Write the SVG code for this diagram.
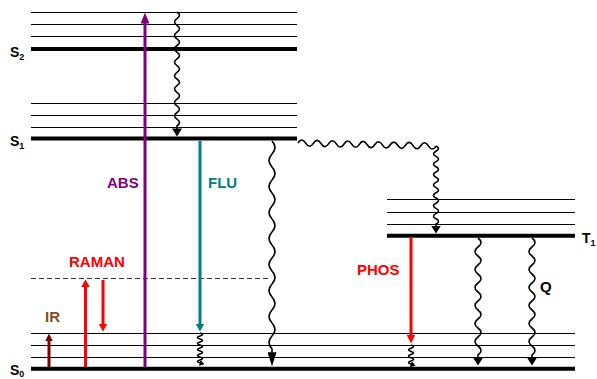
<svg xmlns="http://www.w3.org/2000/svg" width="597" height="379" viewBox="0 0 597 379">
<style>
.thin{stroke:#000;stroke-width:1;fill:none}
.thick{stroke:#000;stroke-width:4;fill:none}
.dash{stroke:#333;stroke-width:1;stroke-dasharray:5 3;fill:none}
.wave{stroke:#000;stroke-width:1.6;fill:none}
.lbl{font-family:"Liberation Sans",Arial,sans-serif;font-weight:bold;font-size:15px}
.st{font-family:"Liberation Sans",Arial,sans-serif;font-weight:bold;font-size:14px;fill:#000}
.sub{font-size:9px}
</style>
<defs>
<marker id="mPurple" viewBox="0 0 10 10" refX="0.5" refY="5" markerWidth="11" markerHeight="9" markerUnits="userSpaceOnUse" orient="auto" preserveAspectRatio="none"><path d="M0,0L10,5L0,10z" fill="#800080"/></marker>
<marker id="mTeal" viewBox="0 0 10 10" refX="0.5" refY="5" markerWidth="8" markerHeight="9" markerUnits="userSpaceOnUse" orient="auto" preserveAspectRatio="none"><path d="M0,0L10,5L0,10z" fill="#008080"/></marker>
<marker id="mRed" viewBox="0 0 10 10" refX="0.5" refY="5" markerWidth="8" markerHeight="9" markerUnits="userSpaceOnUse" orient="auto" preserveAspectRatio="none"><path d="M0,0L10,5L0,10z" fill="#FF0000"/></marker>
<marker id="mRed9" viewBox="0 0 10 10" refX="0.5" refY="5" markerWidth="9" markerHeight="9" markerUnits="userSpaceOnUse" orient="auto" preserveAspectRatio="none"><path d="M0,0L10,5L0,10z" fill="#FF0000"/></marker>
<marker id="mDred" viewBox="0 0 10 10" refX="0.5" refY="5" markerWidth="8" markerHeight="8" markerUnits="userSpaceOnUse" orient="auto" preserveAspectRatio="none"><path d="M0,0L10,5L0,10z" fill="#800000"/></marker>
<marker id="mBlk" viewBox="0 0 10 10" refX="0.5" refY="5" markerWidth="8" markerHeight="10" markerUnits="userSpaceOnUse" orient="auto" preserveAspectRatio="none"><path d="M0,0L10,5L0,10z" fill="#000"/></marker>
<marker id="mBlkLong" viewBox="0 0 10 10" refX="0.5" refY="5" markerWidth="14" markerHeight="9" markerUnits="userSpaceOnUse" orient="auto" preserveAspectRatio="none"><path d="M0,0L10,5L0,10z" fill="#000"/></marker>
<marker id="mBlkSm" viewBox="0 0 10 10" refX="0.5" refY="5" markerWidth="5" markerHeight="6" markerUnits="userSpaceOnUse" orient="auto" preserveAspectRatio="none"><path d="M0,0L10,5L0,10z" fill="#000"/></marker>
</defs>

<g id="S2">
<line class="thin" x1="31" y1="12.5" x2="297" y2="12.5"/>
<line class="thin" x1="31" y1="24.5" x2="297" y2="24.5"/>
<line class="thin" x1="31" y1="36.5" x2="297" y2="36.5"/>
<line class="thick" x1="31" y1="49" x2="297" y2="49"/>
<text class="st" x="10" y="57">S<tspan class="sub" dy="3">2</tspan></text>
</g>
<g id="S1">
<line class="thin" x1="31" y1="103.5" x2="297" y2="103.5"/>
<line class="thin" x1="31" y1="115.5" x2="297" y2="115.5"/>
<line class="thin" x1="31" y1="127.5" x2="297" y2="127.5"/>
<line class="thick" x1="31" y1="138.5" x2="297" y2="138.5"/>
<text class="st" x="10" y="146">S<tspan class="sub" dy="3">1</tspan></text>
</g>
<g id="T1">
<line class="thin" x1="387" y1="199.5" x2="575" y2="199.5"/>
<line class="thin" x1="387" y1="212.5" x2="575" y2="212.5"/>
<line class="thin" x1="387" y1="224.5" x2="575" y2="224.5"/>
<line class="thick" x1="387" y1="235.7" x2="575" y2="235.7"/>
<text class="st" x="582" y="243">T<tspan class="sub" dy="3">1</tspan></text>
</g>
<g id="S0">
<line class="thin" x1="31" y1="333.5" x2="575" y2="333.5"/>
<line class="thin" x1="31" y1="345.5" x2="575" y2="345.5"/>
<line class="thin" x1="31" y1="357.5" x2="575" y2="357.5"/>
<line class="thick" x1="31" y1="368.7" x2="575" y2="368.7"/>
<text class="st" x="10" y="375">S<tspan class="sub" dy="2">0</tspan></text>
</g>
<g id="virtual">
<line class="dash" x1="31" y1="278.5" x2="268" y2="278.5"/>
</g>

<g id="connectors">
<line x1="145" y1="367" x2="145" y2="23" stroke="#800080" stroke-width="3" marker-end="url(#mPurple)"/>
<line x1="200" y1="141" x2="200" y2="324" stroke="#008080" stroke-width="3" marker-end="url(#mTeal)"/>
<line x1="85.5" y1="367" x2="85.5" y2="287" stroke="#FF0000" stroke-width="3" marker-end="url(#mRed)"/>
<line x1="103" y1="280" x2="103" y2="324" stroke="#FF0000" stroke-width="3" marker-end="url(#mRed)"/>
<line x1="49" y1="367" x2="49" y2="341" stroke="#800000" stroke-width="3" marker-end="url(#mDred)"/>
<line x1="411" y1="237" x2="411" y2="335" stroke="#FF0000" stroke-width="3" marker-end="url(#mRed9)"/>

<path class="wave" marker-end="url(#mBlk)" d="M177,12 q5,3.35 0,6.7 t0,6.7 t0,6.7 t0,6.7 t0,6.7 t0,6.7 t0,6.7 t0,6.7 t0,6.7 t0,6.7 t0,6.7 t0,6.7 t0,6.7 t0,6.7 t0,6.7 t0,6.7 t0,6.7 v3"/>
<path class="wave" marker-end="url(#mBlkLong)" d="M272,141 q6,6.5 0,13 t0,13 t0,13 t0,13 t0,13 t0,13 t0,13 t0,13 t0,13 t0,13 t0,13 t0,13 t0,13 t0,13 t0,13 t0,13 v4"/>
<path class="wave" d="M298,143 q3.83,-6 7.67,0.17 t7.67,0.17 t7.67,0.17 t7.67,0.17 t7.67,0.17 t7.67,0.17 t7.67,0.17 t7.67,0.17 t7.67,0.17 t7.67,0.17 t7.67,0.17 t7.67,0.17 t7.67,0.17 t7.67,0.17 t7.67,0.17 t7.67,0.17 t7.67,0.17 t7.67,0.17"/>
<path class="wave" marker-end="url(#mBlk)" d="M436,146 q5,2.6 0,5.2 t0,5.2 t0,5.2 t0,5.2 t0,5.2 t0,5.2 t0,5.2 t0,5.2 t0,5.2 t0,5.2 t0,5.2 t0,5.2 t0,5.2 t0,5.2 t0,5.2 v2"/>
<path class="wave" marker-end="url(#mBlk)" d="M478,238 q6,4.5 0,9 t0,9 t0,9 t0,9 t0,9 t0,9 t0,9 t0,9 t0,9 t0,9 t0,9 t0,9 t0,9 v3"/>
<path class="wave" marker-end="url(#mBlk)" d="M532,238 q6,4.5 0,9 t0,9 t0,9 t0,9 t0,9 t0,9 t0,9 t0,9 t0,9 t0,9 t0,9 t0,9 t0,9 v3"/>
<path class="wave" stroke-width="1" marker-end="url(#mBlkSm)" d="M200,333 q5,1.5 0,3 t0,3 t0,3 t0,3 t0,3 t0,3 t0,3 t0,3 t0,3 t0,3"/>
<path class="wave" stroke-width="1" marker-end="url(#mBlkSm)" d="M411,345 q5,1.6 0,3.2 t0,3.2 t0,3.2 t0,3.2 t0,3.2 t0,3.2"/>
</g>

<g id="labels">
<text class="lbl" x="107" y="188" fill="#800080">ABS</text>
<text class="lbl" x="208" y="188" fill="#008080">FLU</text>
<text class="lbl" x="69" y="267" fill="#FF0000">RAMAN</text>
<text class="lbl" x="45" y="322" fill="#7f5020">IR</text>
<text class="lbl" x="357" y="275" fill="#FF0000">PHOS</text>
<text class="lbl" x="540" y="292" fill="#000">Q</text>
</g>
</svg>
